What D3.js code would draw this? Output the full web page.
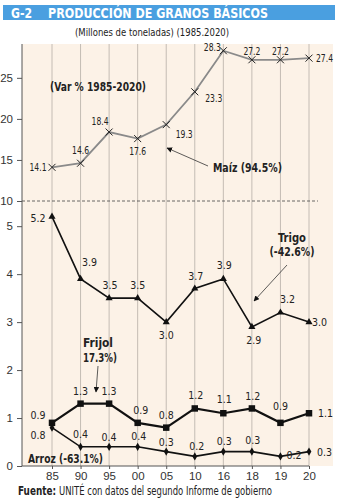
<!DOCTYPE html>
<html>
<head>
<meta charset="utf-8">
<script src="https://cdn.jsdelivr.net/npm/d3@7"></script>
<style>
  body { margin: 0; background: #fff; }
  svg { font-family: "Liberation Sans Narrow", "DejaVu Sans Condensed", sans-serif; }
</style>
</head>
<body>
<div id="chart"></div>
<script>
const years = ["85", "90", "95", "00", "05", "10", "16", "18", "19", "20"];
const maiz = [14.1, 14.6, 18.4, 17.6, 19.3, 23.3, 28.3, 27.2, 27.2, 27.4];
const trigo = [5.2, 3.9, 3.5, 3.5, 3.0, 3.7, 3.9, 2.9, 3.2, 3.0];
const frijol = [0.9, 1.3, 1.3, 0.9, 0.8, 1.2, 1.1, 1.2, 0.9, 1.1];
const arroz = [0.8, 0.4, 0.4, 0.4, 0.3, 0.2, 0.3, 0.3, 0.2, 0.3];
const yTicks = [0, 1, 2, 3, 4, 5, 10, 15, 20, 25];

// label offsets [dx, dy, anchor] per point
const maizLab = [[-14,4,"middle"],[0,-9,"middle"],[-9,-7,"middle"],[0,16,"middle"],[18,13,"middle"],[19,10,"middle"],[-11,0,"middle"],[0,-5,"middle"],[0,-5,"middle"],[7,4,"start"]];
const trigoLab = [[-14,5,"middle"],[9,-13,"middle"],[1,-9,"middle"],[0,-9,"middle"],[0,17,"middle"],[1,-9,"middle"],[1,-10,"middle"],[2,17,"middle"],[7,-10,"middle"],[3,4,"start"]];
const frijolLab = [[-14,-4,"middle"],[0,-9,"middle"],[0,-9,"middle"],[3,-9,"middle"],[0,-9,"middle"],[1,-9,"middle"],[1,-10,"middle"],[1,-8,"middle"],[0,-13,"middle"],[9,4,"start"]];
const arrozLab = [[-14,11,"middle"],[0,-9,"middle"],[0,-6,"middle"],[1,-7,"middle"],[0,-6,"middle"],[2,-6,"middle"],[1,-7,"middle"],[1,-8,"middle"],[6,3,"start"],[8,4,"start"]];

const width = 350, height = 500;

const svg = d3.select("#chart").append("svg")
  .attr("width", width)
  .attr("height", height);

const x = d3.scalePoint().domain(years).range([52, 309]);
const y = d3.scaleLinear().domain([0, 5.4, 10, 29]).range([466, 207, 201, 45]);

// squeezed text helper (reference uses a condensed face)
function txt(s, xx, yy, size, len, opts) {
  opts = opts || {};
  const t = svg.append("text").attr("x", xx).attr("y", yy)
    .attr("font-size", size).attr("fill", opts.fill || "#222")
    .attr("font-weight", opts.bold ? "bold" : null)
    .attr("text-anchor", opts.anchor || "start")
    .text(s);
  if (len) t.attr("textLength", len).attr("lengthAdjust", "spacingAndGlyphs");
  return t;
}

// header
svg.append("rect").attr("x", 3).attr("y", 5).attr("width", 332).attr("height", 15).attr("fill", "#4a9fe0");
txt("G-2", 11, 17.5, 14, 21, { bold: true, fill: "#fff" });
txt("PRODUCCIÓN DE GRANOS BÁSICOS", 48, 17.5, 14, 220, { bold: true, fill: "#fff" });
txt("(Millones de toneladas) (1985.2020)", 75, 35.5, 11, 154);

// background
svg.append("rect").attr("x", 22).attr("y", 44).attr("width", 311).attr("height", 422).attr("fill", "#fcf2e7");

// vertical grid
svg.append("g").selectAll("line").data(years).join("line")
  .attr("x1", d => x(d)).attr("x2", d => x(d))
  .attr("y1", 44).attr("y2", 466)
  .attr("stroke", "#c4bcb4").attr("stroke-width", 1);

// dashed break at 10
svg.append("line").attr("x1", 22).attr("x2", 318).attr("y1", y(10)).attr("y2", y(10))
  .attr("stroke", "#444").attr("stroke-width", 0.8).attr("stroke-dasharray", "3,2");

// y axis
const yAxis = svg.append("g").attr("transform", "translate(22,0)")
  .call(d3.axisLeft(y).tickValues(yTicks).tickSize(5).tickPadding(4));
yAxis.select(".domain").attr("d", `M0,44V${y(0)}`).attr("stroke", "#555");
yAxis.selectAll(".tick line").attr("stroke", "#555");
yAxis.selectAll("text").attr("font-size", 11.5).attr("fill", "#333").attr("font-family", null);

// x axis
const xAxis = svg.append("g").attr("transform", `translate(0,${y(0)})`)
  .call(d3.axisBottom(x).tickSize(3).tickPadding(3));
xAxis.select(".domain").attr("d", `M22,0H${x("20")}`).attr("stroke", "#555");
xAxis.selectAll(".tick line").attr("stroke", "#555");
xAxis.selectAll("text").attr("font-size", 11.5).attr("fill", "#333").attr("font-family", null);

const line = d3.line().x((d, i) => x(years[i])).y(d => y(d));

function series(vals, color, lw, sym, size, labs) {
  svg.append("path").datum(vals).attr("d", line)
    .attr("fill", "none").attr("stroke", color).attr("stroke-width", lw);
  if (sym) {
    svg.append("g").selectAll("path").data(vals).join("path")
      .attr("transform", (d, i) => `translate(${x(years[i])},${y(d)})`)
      .attr("d", d3.symbol().type(sym).size(size))
      .attr("fill", "#111");
  } else {
    svg.append("g").selectAll("path").data(vals).join("path")
      .attr("transform", (d, i) => `translate(${x(years[i])},${y(d)})`)
      .attr("d", "M-3.5,-3.5L3.5,3.5M-3.5,3.5L3.5,-3.5")
      .attr("stroke", "#222").attr("stroke-width", 1);
  }
  const lab = svg.append("g").selectAll("text").data(vals).join("text")
    .attr("x", (d, i) => x(years[i]) + labs[i][0])
    .attr("y", (d, i) => y(d) + labs[i][1])
    .attr("text-anchor", (d, i) => labs[i][2])
    .attr("font-size", 10.5).attr("fill", "#222")
    .text(d => d.toFixed(1));
  lab.filter(d => d >= 10).attr("textLength", 17).attr("lengthAdjust", "spacingAndGlyphs");
}

series(maiz, "#8a8a8a", 1.8, null, 0, maizLab);
series(trigo, "#111", 1.6, d3.symbolTriangle, 22, trigoLab);
series(frijol, "#111", 2.2, d3.symbolSquare, 42, frijolLab);
series(arroz, "#111", 1.6, d3.symbolDiamond, 20, arrozLab);

// annotations
svg.append("defs").append("marker").attr("id", "arr")
  .attr("viewBox", "0 0 10 10").attr("refX", 9).attr("refY", 5)
  .attr("markerWidth", 7).attr("markerHeight", 7).attr("orient", "auto")
  .append("path").attr("d", "M0,0L10,5L0,10z").attr("fill", "#111");

txt("(Var % 1985-2020)", 50, 91, 12.5, 96, { bold: true });
txt("Maíz (94.5%)", 213, 172, 12.5, 69, { bold: true });
txt("Trigo", 292, 242, 12.5, 28, { bold: true, anchor: "middle" });
txt("(-42.6%)", 292, 256, 12.5, 45, { bold: true, anchor: "middle" });
txt("Frijol", 98, 347, 12.5, 30, { bold: true, anchor: "middle" });
txt("17.3%)", 100, 362, 12.5, 34, { bold: true, anchor: "middle" });
txt("Arroz (-63.1%)", 28, 463, 12.5, 75, { bold: true });

const arrows = [[208, 166, 167, 148], [287, 265, 254, 301], [98, 366, 96, 392]];
svg.append("g").selectAll("line").data(arrows).join("line")
  .attr("x1", d => d[0]).attr("y1", d => d[1]).attr("x2", d => d[2]).attr("y2", d => d[3])
  .attr("stroke", "#333").attr("stroke-width", 0.8).attr("marker-end", "url(#arr)");

// footer
txt("Fuente:", 18, 495, 11.5, 38, { bold: true });
txt("UNITÉ con datos del segundo Informe de gobierno", 59, 495, 11.5, 213);
</script>
</body>
</html>
